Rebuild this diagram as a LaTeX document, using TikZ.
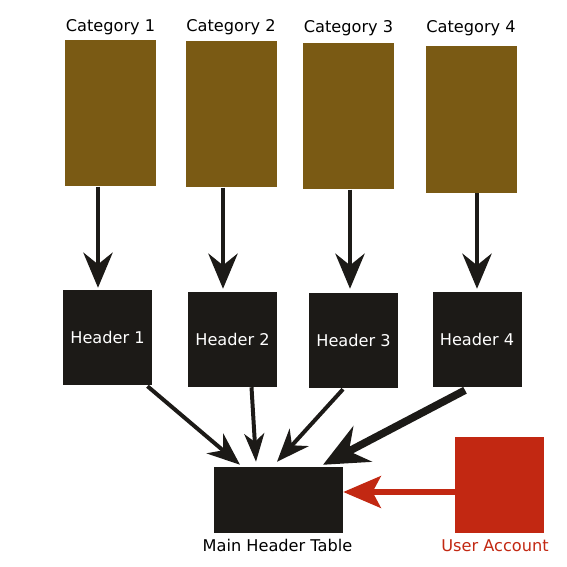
\documentclass[tikz,border=0pt]{standalone}
\usepackage{fontspec}
\setmainfont{DejaVu Sans}
\usetikzlibrary{arrows.meta,calc}
\definecolor{catbrown}{RGB}{122,90,20}
\definecolor{hdblack}{RGB}{28,26,23}
\definecolor{userred}{RGB}{194,40,18}
\begin{document}
\begin{tikzpicture}[x=0.03cm, y=-0.03cm, font=\fontsize{13.8}{16}\selectfont,
    catbox/.style={fill=catbrown, inner sep=0, minimum width=2.73cm, minimum height=4.4cm},
    hdbox/.style={fill=hdblack, text=white, inner sep=0, minimum width=2.67cm, minimum height=2.85cm},
    catarrow/.style={-{Stealth[length=30pt, width=25pt, inset=10pt]}, line width=3.8pt, hdblack},
    hdarrow/.style={-{Stealth[length=28pt, width=22pt, inset=9pt]}, line width=3.4pt, hdblack},
    bigarrow/.style={-{Stealth[length=38pt, width=34pt, inset=13pt]}, line width=6.5pt, hdblack},
    redarrow/.style={-{Stealth[length=32pt, width=27pt, inset=7pt]}, line width=5pt, userred}]

    \useasboundingbox (0,0) rectangle (567,567);

    % Category boxes and their titles
    \node (cat1) at (110.5, 113) [catbox] {};
    \node (cat2) at (231.5, 114) [catbox] {};
    \node (cat3) at (348.5, 116) [catbox] {};
    \node (cat4) at (471.5, 119.5) [catbox] {};
    \node (cat1lbl) at (110.5, 32) [anchor=base] {Category 1};
    \node (cat2lbl) at (231, 32) [anchor=base] {Category 2};
    \node (cat3lbl) at (348.5, 33) [anchor=base] {Category 3};
    \node (cat4lbl) at (471, 33) [anchor=base] {Category 4};

    % Header boxes
    \node (hd1) at (107.5, 337.5) [hdbox] {Header 1};
    \node (hd2) at (232.5, 339.5) [hdbox] {Header 2};
    \node (hd3) at (353.5, 340.5) [hdbox] {Header 3};
    \node (hd4) at (477, 339.5) [hdbox] {Header 4};

    % Main table and user account
    \node (main) at (278.5, 500) [fill=hdblack, inner sep=0, minimum width=3.87cm, minimum height=1.98cm] {};
    \node (mainlbl) at (277.5, 551) [anchor=base] {Main Header Table};
    \node (user) at (499.5, 485) [fill=userred, inner sep=0, minimum width=2.67cm, minimum height=2.88cm] {};
    \node (userlbl) at (495, 551) [anchor=base, text=userred] {User Account};

    % Category to header
    \draw[catarrow] (cat1.south -| 98,0) -- ($(hd1.north -| 98,0)+(0,-2)$);
    \draw[catarrow] (cat2.south -| 223,0) -- ($(hd2.north -| 223,0)+(0,-3)$);
    \draw[catarrow] (cat3.south -| 350,0) -- ($(hd3.north -| 350,0)+(0,-4)$);
    \draw[catarrow] (cat4.south -| 477,0) -- ($(hd4.north -| 477,0)+(0,-3)$);

    % Headers to main table
    \draw[hdarrow] ($(hd1.south)+(40,1)$) -- ($(main.north)+(-38.5,-2)$);
    \draw[hdarrow, -{Stealth[length=24pt, width=17pt, inset=7pt]}] ($(hd2.south)+(19,0)$) -- ($(main.north)+(-22.5,-5)$);
    \draw[hdarrow] ($(hd3.south)+(-10.5,1)$) -- ($(main.north)+(-1.5,-5)$);
    \draw[bigarrow] ($(hd4.south)+(-12,3)$) -- ($(main.north)+(44.5,-2)$);

    % User account to main table
    \draw[redarrow] ($(user.west)+(0,7)$) -- ($(main.east)+(0,-8)$);
\end{tikzpicture}
\end{document}
